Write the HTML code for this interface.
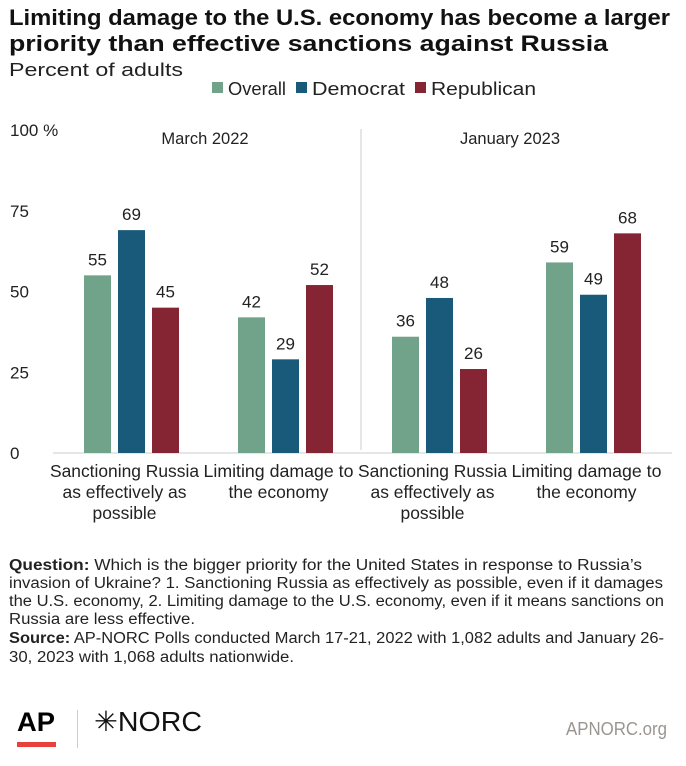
<!DOCTYPE html>
<html><head><meta charset="utf-8"><style>
body{margin:0;width:686px;height:766px;background:#fff;font-family:"Liberation Sans",sans-serif;color:#222;position:relative;overflow:hidden}
.abs{position:absolute}
svg text{font-family:"Liberation Sans",sans-serif}
</style></head><body>
<svg class="abs" style="left:0;top:0" width="686" height="766">
<text x="9" y="25" font-size="22" font-weight="bold" fill="#111" textLength="661" lengthAdjust="spacingAndGlyphs">Limiting damage to the U.S. economy has become a larger</text>
<text x="9" y="51" font-size="22" font-weight="bold" fill="#111" textLength="599" lengthAdjust="spacingAndGlyphs">priority than effective sanctions against Russia</text>
<text x="9" y="76" font-size="18.5" fill="#222" textLength="174" lengthAdjust="spacingAndGlyphs">Percent of adults</text>
<g font-size="18.5" fill="#222">
<rect x="212" y="82" width="11" height="11" fill="#70a389"/><text x="228" y="95" textLength="58" lengthAdjust="spacingAndGlyphs">Overall</text>
<rect x="296" y="82" width="11" height="11" fill="#195a7a"/><text x="312" y="95" textLength="93" lengthAdjust="spacingAndGlyphs">Democrat</text>
<rect x="415" y="82" width="11" height="11" fill="#852533"/><text x="431" y="95" textLength="105" lengthAdjust="spacingAndGlyphs">Republican</text>
</g>
<g font-size="15.5" fill="#222">
<text x="9" y="570" textLength="633" lengthAdjust="spacingAndGlyphs"><tspan font-weight="bold">Question:</tspan> Which is the bigger priority for the United States in response to Russia’s</text>
<text x="9" y="588" textLength="654" lengthAdjust="spacingAndGlyphs">invasion of Ukraine? 1. Sanctioning Russia as effectively as possible, even if it damages</text>
<text x="9" y="606" textLength="655" lengthAdjust="spacingAndGlyphs">the U.S. economy, 2. Limiting damage to the U.S. economy, even if it means sanctions on</text>
<text x="9" y="624" textLength="186" lengthAdjust="spacingAndGlyphs">Russia are less effective.</text>
<text x="9" y="643" textLength="655" lengthAdjust="spacingAndGlyphs"><tspan font-weight="bold">Source:</tspan> AP-NORC Polls conducted March 17-21, 2022 with 1,082 adults and January 26-</text>
<text x="9" y="662" textLength="285" lengthAdjust="spacingAndGlyphs">30, 2023 with 1,068 adults nationwide.</text>
</g>
<text x="17" y="731" font-size="27" font-weight="bold" fill="#000" textLength="38" lengthAdjust="spacingAndGlyphs">AP</text>
<rect x="17" y="742" width="39" height="5" fill="#e8403a"/>
<rect x="77" y="710" width="1" height="38" fill="#ccc"/>
<text x="94" y="731" font-size="28" fill="#111" textLength="108" lengthAdjust="spacingAndGlyphs">✳NORC</text>
<text x="566" y="735" font-size="18" fill="#9a958f" textLength="101" lengthAdjust="spacingAndGlyphs">APNORC.org</text>
</svg>
<svg id="chart" class="abs" style="left:0;top:0" width="686" height="540"></svg>
<script>
const categories=["Sanctioning Russia|as effectively as|possible","Limiting damage to|the economy","Sanctioning Russia|as effectively as|possible","Limiting damage to|the economy"];
const periods=["March 2022","January 2023"];
const overall=[55,42,36,59];
const democrat=[69,29,48,49];
const republican=[45,52,26,68];
const ticks=[0,25,50,75,100];
const tickLabels=["0","25","50","75","100 %"];
const svg=document.getElementById('chart');
const NS="http://www.w3.org/2000/svg";
const y=v=>453-v*3.23;
const gx=i=>84+i*154;
function mk(t,a){const e=document.createElementNS(NS,t);for(const k in a)e.setAttribute(k,a[k]);svg.appendChild(e);return e;}
ticks.forEach((t,i)=>{const e=mk('text',{x:10,y:y(t)+6,'font-size':17,fill:'#222'});e.textContent=tickLabels[i];

});
const base=mk('line',{x1:53,x2:672,y1:453,y2:453,stroke:'#ccc','stroke-width':1});


const div=mk('line',{x1:361,x2:361,y1:129,y2:450,stroke:'#ddd','stroke-width':1.5});


periods.forEach((p,i)=>{const e=mk('text',{x:[205,510][i],y:144,'font-size':16.5,'text-anchor':'middle',fill:'#222'});e.textContent=p;

});
const series=[[overall,'#70a389','overall'],[democrat,'#195a7a','democrat'],[republican,'#852533','republican']];
const lineLens={"Sanctioning Russia":149,"as effectively as":124,"possible":64,"Limiting damage to":150,"the economy":100};
categories.forEach((c,i)=>{
 series.forEach(([vals,col,nm],j)=>{const x=gx(i)+j*34,v=vals[i];
  const r=mk('rect',{x:x,y:y(v),width:27,height:453-y(v),fill:col});
  
  
  const t=mk('text',{x:x+13.5,y:y(v)-10,'font-size':17,'text-anchor':'middle',fill:'#222'});t.textContent=v;
  
  });
 c.split('|').forEach((ln,k)=>{const t=mk('text',{x:gx(i)+40.5,y:477+k*21,'font-size':17.5,'text-anchor':'middle',fill:'#222',textLength:lineLens[ln]||100,lengthAdjust:'spacingAndGlyphs'});t.textContent=ln;
  
  });
});
</script>
</body></html>
